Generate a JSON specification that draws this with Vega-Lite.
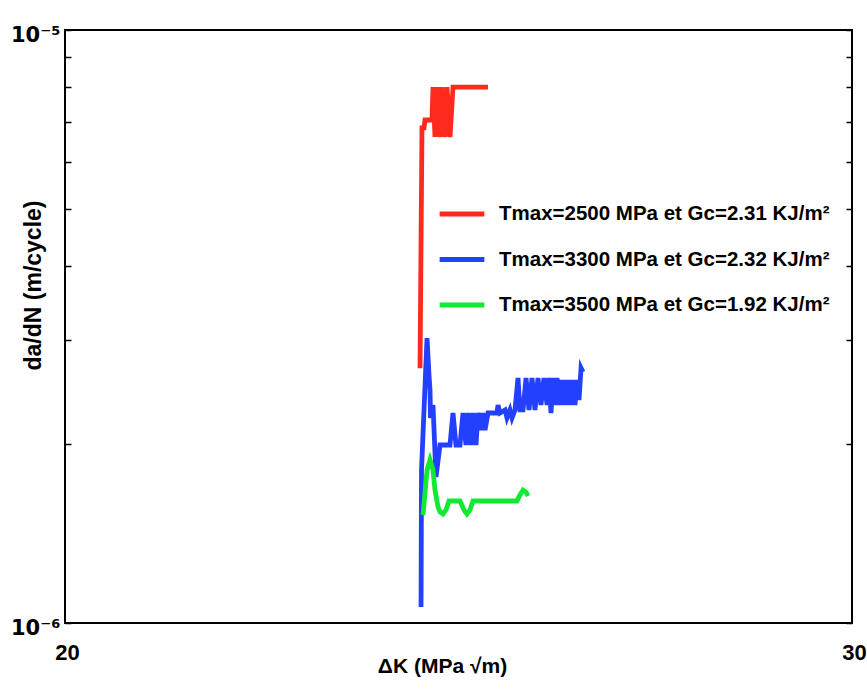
{
  "$schema": "https://vega.github.io/schema/vega-lite/v6.json",
  "width": 787,
  "height": 593,
  "autosize": "none",
  "padding": {"left": 65, "top": 30, "right": 15, "bottom": 66},
  "background": "white",
  "config": {
    "view": {"stroke": "black", "strokeWidth": 2},
    "font": "Liberation Sans"
  },
  "data": {
    "values": [
      {"s": "Tmax=2500 MPa et Gc=2.31 KJ/m²", "i": 1, "dK": 24.511, "dadN": 2.69e-6},
      {"s": "Tmax=2500 MPa et Gc=2.31 KJ/m²", "i": 2, "dK": 24.536, "dadN": 6.84e-6},
      {"s": "Tmax=2500 MPa et Gc=2.31 KJ/m²", "i": 3, "dK": 24.562, "dadN": 6.84e-6},
      {"s": "Tmax=2500 MPa et Gc=2.31 KJ/m²", "i": 4, "dK": 24.574, "dadN": 7.05e-6},
      {"s": "Tmax=2500 MPa et Gc=2.31 KJ/m²", "i": 5, "dK": 24.663, "dadN": 7.05e-6},
      {"s": "Tmax=2500 MPa et Gc=2.31 KJ/m²", "i": 6, "dK": 24.676, "dadN": 8.01e-6},
      {"s": "Tmax=2500 MPa et Gc=2.31 KJ/m²", "i": 7, "dK": 24.701, "dadN": 6.60e-6},
      {"s": "Tmax=2500 MPa et Gc=2.31 KJ/m²", "i": 8, "dK": 24.727, "dadN": 8.01e-6},
      {"s": "Tmax=2500 MPa et Gc=2.31 KJ/m²", "i": 9, "dK": 24.765, "dadN": 6.60e-6},
      {"s": "Tmax=2500 MPa et Gc=2.31 KJ/m²", "i": 10, "dK": 24.790, "dadN": 8.01e-6},
      {"s": "Tmax=2500 MPa et Gc=2.31 KJ/m²", "i": 11, "dK": 24.828, "dadN": 6.60e-6},
      {"s": "Tmax=2500 MPa et Gc=2.31 KJ/m²", "i": 12, "dK": 24.854, "dadN": 8.01e-6},
      {"s": "Tmax=2500 MPa et Gc=2.31 KJ/m²", "i": 13, "dK": 24.892, "dadN": 6.60e-6},
      {"s": "Tmax=2500 MPa et Gc=2.31 KJ/m²", "i": 14, "dK": 24.930, "dadN": 8.01e-6},
      {"s": "Tmax=2500 MPa et Gc=2.31 KJ/m²", "i": 15, "dK": 25.375, "dadN": 8.01e-6},

      {"s": "Tmax=3300 MPa et Gc=2.32 KJ/m²", "i": 1, "dK": 24.524, "dadN": 1.064e-6},
      {"s": "Tmax=3300 MPa et Gc=2.32 KJ/m²", "i": 2, "dK": 24.530, "dadN": 1.811e-6},
      {"s": "Tmax=3300 MPa et Gc=2.32 KJ/m²", "i": 3, "dK": 24.600, "dadN": 3.024e-6},
      {"s": "Tmax=3300 MPa et Gc=2.32 KJ/m²", "i": 4, "dK": 24.625, "dadN": 2.620e-6},
      {"s": "Tmax=3300 MPa et Gc=2.32 KJ/m²", "i": 5, "dK": 24.638, "dadN": 2.471e-6},
      {"s": "Tmax=3300 MPa et Gc=2.32 KJ/m²", "i": 6, "dK": 24.644, "dadN": 2.217e-6},
      {"s": "Tmax=3300 MPa et Gc=2.32 KJ/m²", "i": 7, "dK": 24.676, "dadN": 2.331e-6},
      {"s": "Tmax=3300 MPa et Gc=2.32 KJ/m²", "i": 8, "dK": 24.714, "dadN": 1.763e-6},
      {"s": "Tmax=3300 MPa et Gc=2.32 KJ/m²", "i": 9, "dK": 24.765, "dadN": 1.996e-6},
      {"s": "Tmax=3300 MPa et Gc=2.32 KJ/m²", "i": 10, "dK": 24.892, "dadN": 1.996e-6},
      {"s": "Tmax=3300 MPa et Gc=2.32 KJ/m²", "i": 11, "dK": 24.930, "dadN": 2.260e-6},
      {"s": "Tmax=3300 MPa et Gc=2.32 KJ/m²", "i": 12, "dK": 24.968, "dadN": 1.996e-6},
      {"s": "Tmax=3300 MPa et Gc=2.32 KJ/m²", "i": 13, "dK": 25.019, "dadN": 1.996e-6},
      {"s": "Tmax=3300 MPa et Gc=2.32 KJ/m²", "i": 14, "dK": 25.057, "dadN": 2.260e-6},
      {"s": "Tmax=3300 MPa et Gc=2.32 KJ/m²", "i": 15, "dK": 25.095, "dadN": 1.996e-6},
      {"s": "Tmax=3300 MPa et Gc=2.32 KJ/m²", "i": 16, "dK": 25.121, "dadN": 2.260e-6},
      {"s": "Tmax=3300 MPa et Gc=2.32 KJ/m²", "i": 17, "dK": 25.159, "dadN": 1.996e-6},
      {"s": "Tmax=3300 MPa et Gc=2.32 KJ/m²", "i": 18, "dK": 25.184, "dadN": 2.260e-6},
      {"s": "Tmax=3300 MPa et Gc=2.32 KJ/m²", "i": 19, "dK": 25.222, "dadN": 1.996e-6},
      {"s": "Tmax=3300 MPa et Gc=2.32 KJ/m²", "i": 20, "dK": 25.248, "dadN": 2.260e-6},
      {"s": "Tmax=3300 MPa et Gc=2.32 KJ/m²", "i": 21, "dK": 25.286, "dadN": 2.116e-6},
      {"s": "Tmax=3300 MPa et Gc=2.32 KJ/m²", "i": 22, "dK": 25.311, "dadN": 2.260e-6},
      {"s": "Tmax=3300 MPa et Gc=2.32 KJ/m²", "i": 23, "dK": 25.337, "dadN": 2.116e-6},
      {"s": "Tmax=3300 MPa et Gc=2.32 KJ/m²", "i": 24, "dK": 25.375, "dadN": 2.260e-6},
      {"s": "Tmax=3300 MPa et Gc=2.32 KJ/m²", "i": 25, "dK": 25.489, "dadN": 2.260e-6},
      {"s": "Tmax=3300 MPa et Gc=2.32 KJ/m²", "i": 26, "dK": 25.502, "dadN": 2.331e-6},
      {"s": "Tmax=3300 MPa et Gc=2.32 KJ/m²", "i": 27, "dK": 25.527, "dadN": 2.260e-6},
      {"s": "Tmax=3300 MPa et Gc=2.32 KJ/m²", "i": 28, "dK": 25.591, "dadN": 2.287e-6},
      {"s": "Tmax=3300 MPa et Gc=2.32 KJ/m²", "i": 29, "dK": 25.616, "dadN": 2.217e-6},
      {"s": "Tmax=3300 MPa et Gc=2.32 KJ/m²", "i": 30, "dK": 25.654, "dadN": 2.287e-6},
      {"s": "Tmax=3300 MPa et Gc=2.32 KJ/m²", "i": 31, "dK": 25.680, "dadN": 2.217e-6},
      {"s": "Tmax=3300 MPa et Gc=2.32 KJ/m²", "i": 32, "dK": 25.718, "dadN": 2.287e-6},
      {"s": "Tmax=3300 MPa et Gc=2.32 KJ/m²", "i": 33, "dK": 25.756, "dadN": 2.590e-6},
      {"s": "Tmax=3300 MPa et Gc=2.32 KJ/m²", "i": 34, "dK": 25.781, "dadN": 2.287e-6},
      {"s": "Tmax=3300 MPa et Gc=2.32 KJ/m²", "i": 35, "dK": 25.820, "dadN": 2.287e-6},
      {"s": "Tmax=3300 MPa et Gc=2.32 KJ/m²", "i": 36, "dK": 25.858, "dadN": 2.590e-6},
      {"s": "Tmax=3300 MPa et Gc=2.32 KJ/m²", "i": 37, "dK": 25.896, "dadN": 2.287e-6},
      {"s": "Tmax=3300 MPa et Gc=2.32 KJ/m²", "i": 38, "dK": 25.934, "dadN": 2.590e-6},
      {"s": "Tmax=3300 MPa et Gc=2.32 KJ/m²", "i": 39, "dK": 25.972, "dadN": 2.287e-6},
      {"s": "Tmax=3300 MPa et Gc=2.32 KJ/m²", "i": 40, "dK": 26.010, "dadN": 2.590e-6},
      {"s": "Tmax=3300 MPa et Gc=2.32 KJ/m²", "i": 41, "dK": 26.048, "dadN": 2.331e-6},
      {"s": "Tmax=3300 MPa et Gc=2.32 KJ/m²", "i": 42, "dK": 26.086, "dadN": 2.590e-6},
      {"s": "Tmax=3300 MPa et Gc=2.32 KJ/m²", "i": 43, "dK": 26.125, "dadN": 2.331e-6},
      {"s": "Tmax=3300 MPa et Gc=2.32 KJ/m²", "i": 44, "dK": 26.150, "dadN": 2.590e-6},
      {"s": "Tmax=3300 MPa et Gc=2.32 KJ/m²", "i": 45, "dK": 26.175, "dadN": 2.260e-6},
      {"s": "Tmax=3300 MPa et Gc=2.32 KJ/m²", "i": 46, "dK": 26.201, "dadN": 2.590e-6},
      {"s": "Tmax=3300 MPa et Gc=2.32 KJ/m²", "i": 47, "dK": 26.226, "dadN": 2.331e-6},
      {"s": "Tmax=3300 MPa et Gc=2.32 KJ/m²", "i": 48, "dK": 26.252, "dadN": 2.590e-6},
      {"s": "Tmax=3300 MPa et Gc=2.32 KJ/m²", "i": 49, "dK": 26.277, "dadN": 2.331e-6},
      {"s": "Tmax=3300 MPa et Gc=2.32 KJ/m²", "i": 50, "dK": 26.302, "dadN": 2.569e-6},
      {"s": "Tmax=3300 MPa et Gc=2.32 KJ/m²", "i": 51, "dK": 26.328, "dadN": 2.331e-6},
      {"s": "Tmax=3300 MPa et Gc=2.32 KJ/m²", "i": 52, "dK": 26.353, "dadN": 2.569e-6},
      {"s": "Tmax=3300 MPa et Gc=2.32 KJ/m²", "i": 53, "dK": 26.379, "dadN": 2.331e-6},
      {"s": "Tmax=3300 MPa et Gc=2.32 KJ/m²", "i": 54, "dK": 26.404, "dadN": 2.569e-6},
      {"s": "Tmax=3300 MPa et Gc=2.32 KJ/m²", "i": 55, "dK": 26.429, "dadN": 2.331e-6},
      {"s": "Tmax=3300 MPa et Gc=2.32 KJ/m²", "i": 56, "dK": 26.455, "dadN": 2.569e-6},
      {"s": "Tmax=3300 MPa et Gc=2.32 KJ/m²", "i": 57, "dK": 26.480, "dadN": 2.331e-6},
      {"s": "Tmax=3300 MPa et Gc=2.32 KJ/m²", "i": 58, "dK": 26.506, "dadN": 2.569e-6},
      {"s": "Tmax=3300 MPa et Gc=2.32 KJ/m²", "i": 59, "dK": 26.531, "dadN": 2.377e-6},
      {"s": "Tmax=3300 MPa et Gc=2.32 KJ/m²", "i": 60, "dK": 26.557, "dadN": 2.692e-6},
      {"s": "Tmax=3300 MPa et Gc=2.32 KJ/m²", "i": 61, "dK": 26.582, "dadN": 2.650e-6},

      {"s": "Tmax=3500 MPa et Gc=1.92 KJ/m²", "i": 1, "dK": 24.549, "dadN": 1.521e-6},
      {"s": "Tmax=3500 MPa et Gc=1.92 KJ/m²", "i": 2, "dK": 24.600, "dadN": 1.811e-6},
      {"s": "Tmax=3500 MPa et Gc=1.92 KJ/m²", "i": 3, "dK": 24.638, "dadN": 1.883e-6},
      {"s": "Tmax=3500 MPa et Gc=1.92 KJ/m²", "i": 4, "dK": 24.676, "dadN": 1.811e-6},
      {"s": "Tmax=3500 MPa et Gc=1.92 KJ/m²", "i": 5, "dK": 24.701, "dadN": 1.676e-6},
      {"s": "Tmax=3500 MPa et Gc=1.92 KJ/m²", "i": 6, "dK": 24.740, "dadN": 1.569e-6},
      {"s": "Tmax=3500 MPa et Gc=1.92 KJ/m²", "i": 7, "dK": 24.765, "dadN": 1.539e-6},
      {"s": "Tmax=3500 MPa et Gc=1.92 KJ/m²", "i": 8, "dK": 24.803, "dadN": 1.527e-6},
      {"s": "Tmax=3500 MPa et Gc=1.92 KJ/m²", "i": 9, "dK": 24.841, "dadN": 1.551e-6},
      {"s": "Tmax=3500 MPa et Gc=1.92 KJ/m²", "i": 10, "dK": 24.879, "dadN": 1.606e-6},
      {"s": "Tmax=3500 MPa et Gc=1.92 KJ/m²", "i": 11, "dK": 25.019, "dadN": 1.606e-6},
      {"s": "Tmax=3500 MPa et Gc=1.92 KJ/m²", "i": 12, "dK": 25.070, "dadN": 1.551e-6},
      {"s": "Tmax=3500 MPa et Gc=1.92 KJ/m²", "i": 13, "dK": 25.108, "dadN": 1.527e-6},
      {"s": "Tmax=3500 MPa et Gc=1.92 KJ/m²", "i": 14, "dK": 25.146, "dadN": 1.551e-6},
      {"s": "Tmax=3500 MPa et Gc=1.92 KJ/m²", "i": 15, "dK": 25.184, "dadN": 1.606e-6},
      {"s": "Tmax=3500 MPa et Gc=1.92 KJ/m²", "i": 16, "dK": 25.743, "dadN": 1.606e-6},
      {"s": "Tmax=3500 MPa et Gc=1.92 KJ/m²", "i": 17, "dK": 25.781, "dadN": 1.644e-6},
      {"s": "Tmax=3500 MPa et Gc=1.92 KJ/m²", "i": 18, "dK": 25.820, "dadN": 1.676e-6},
      {"s": "Tmax=3500 MPa et Gc=1.92 KJ/m²", "i": 19, "dK": 25.858, "dadN": 1.663e-6},
      {"s": "Tmax=3500 MPa et Gc=1.92 KJ/m²", "i": 20, "dK": 25.883, "dadN": 1.637e-6}
    ]
  },
  "encoding": {
    "x": {
      "field": "dK", "type": "quantitative",
      "scale": {"domain": [20, 30], "nice": false, "zero": false},
      "axis": {
        "values": [20, 30], "format": "d", "ticks": false, "domain": false, "grid": false,
        "labelFontSize": 22, "labelFontWeight": "bold", "labelColor": "black",
        "labelPadding": 19, "labelOffset": 2, "labelFlush": false, "labelOverlap": false,
        "title": "ΔK (MPa √m)", "titleFontSize": 21, "titleFontWeight": "bold", "titleColor": "black",
        "titleBaseline": "alphabetic", "titleY": 49, "titleX": 377, "titleAlign": "center"
      }
    }
  },
  "layer": [
    {
      "mark": {"type": "line", "strokeWidth": 4.8, "strokeJoin": "miter", "clip": true},
      "encoding": {
        "y": {
          "field": "dadN", "type": "quantitative",
          "scale": {"type": "log", "domain": [1e-6, 1e-5], "nice": false},
          "axis": {
            "values": [1e-6, 2e-6, 3e-6, 4e-6, 5e-6, 6e-6, 7e-6, 8e-6, 9e-6, 1e-5],
            "labelExpr": "datum.value < 1.5e-6 ? '10⁻⁶' : (datum.value > 9.5e-6 ? '10⁻⁵' : '')",
            "tickSize": -6, "tickColor": "black", "tickWidth": 1.5, "domain": false, "grid": false,
            "labelFont": "DejaVu Sans", "labelFontSize": 21, "labelFontWeight": "bold", "labelColor": "black",
            "labelPadding": 11, "labelOffset": 5, "labelFlush": false, "labelOverlap": false,
            "title": "da/dN (m/cycle)", "titleFontSize": 23, "titleFontWeight": "bold", "titleColor": "black",
            "titleX": -32, "titleY": 255, "titleBaseline": "middle", "titleAlign": "center", "titleAngle": -90
          }
        },
        "color": {
          "field": "s", "type": "nominal",
          "scale": {
            "domain": ["Tmax=2500 MPa et Gc=2.31 KJ/m²", "Tmax=3300 MPa et Gc=2.32 KJ/m²", "Tmax=3500 MPa et Gc=1.92 KJ/m²"],
            "range": ["#ff2a1e", "#2340ff", "#10ea30"]
          },
          "legend": {
            "orient": "none", "legendX": 372, "legendY": 159, "title": null, "padding": 0,
            "symbolType": "stroke", "symbolStrokeWidth": 5, "symbolSize": 2000,
            "labelFontSize": 20.5, "labelFontWeight": "bold", "labelColor": "black",
            "labelOffset": 12, "rowPadding": 9.5, "labelLimit": 500
          }
        },
        "order": {"field": "i", "type": "quantitative"}
      }
    },
    {
      "mark": {"type": "line", "opacity": 0},
      "encoding": {
        "y": {
          "field": "dadN", "type": "quantitative",
          "scale": {"type": "log", "domain": [1e-6, 1e-5], "nice": false},
          "axis": {
            "orient": "right", "offset": -6,
            "values": [1e-6, 2e-6, 3e-6, 4e-6, 5e-6, 6e-6, 7e-6, 8e-6, 9e-6, 1e-5],
            "labels": false, "title": null, "tickSize": 6, "tickColor": "black", "tickWidth": 1.5,
            "domain": false, "grid": false
          }
        },
        "detail": {"field": "s", "type": "nominal"}
      }
    }
  ],
  "resolve": {"axis": {"y": "independent"}}
}
